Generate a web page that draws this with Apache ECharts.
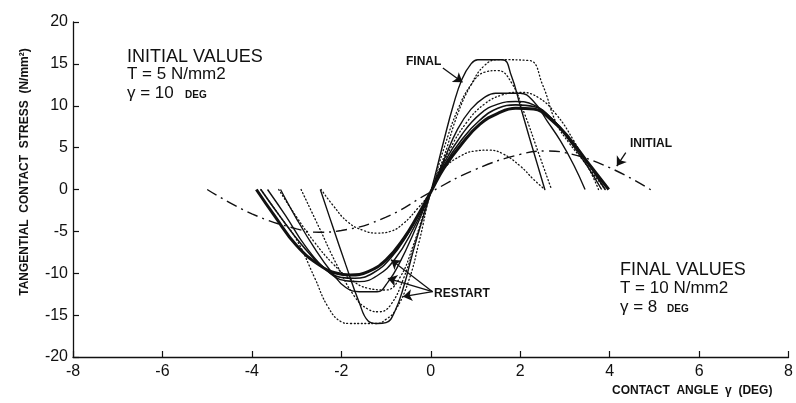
<!DOCTYPE html>
<html>
<head>
<meta charset="utf-8" />
<title>Tangential contact stress</title>
<style>
  html, body { margin: 0; padding: 0; background: #fff; }
  #main { width: 796px; height: 403px; }
</style>
</head>
<body>
<div id="main"></div>
<script src="https://cdn.jsdelivr.net/npm/echarts/dist/echarts.min.js"></script>
<script>
// axis ticks
var xTicks = [-8, -6, -4, -2, 0, 2, 4, 6, 8];
var yTicks = [-20, -15, -10, -5, 0, 5, 10, 15, 20];

// curves: [angle (deg), stress (N/mm2)]
var initialCurve = [[-5,0],[-4,-2.9],[-3,-4.7],[-2.5,-5.1],[-2,-4.9],[-1,-3.3],[0,-0.3],[1,2.4],[2,4.2],[2.6,4.6],[3,4.4],[4,2.6],[5,-0.3]];

var finalCurve = [[-2.47,0],[-2.2,-4.3],[-1.9,-9],[-1.6,-13.5],[-1.4,-15.7],[-1.2,-16],[-1.0,-15.9],[-0.8,-14.5],[-0.6,-11.5],[-0.4,-7.5],[-0.2,-3.8],[0,-0.3],
  [0.3,6],[0.5,10],[0.7,13.2],[0.9,15],[1.05,15.5],[1.6,15.5],[1.8,13.6],[2.0,10],[2.2,6.3],[2.4,2.7],[2.55,0]];

var solidThick = [[-3.9,0],[-3.5,-3.1],[-3.0,-6.7],[-2.5,-9.0],[-2.1,-10.0],[-1.8,-10.2],[-1.4,-9.8],[-1.0,-8.4],[-0.6,-5.8],[-0.3,-3.2],[0,-0.3],
  [0.3,2.6],[0.7,5.5],[1.1,7.8],[1.5,9.1],[1.9,9.7],[2.3,9.6],[2.7,8.3],[3.1,6.1],[3.5,3.3],[3.98,0]];

var solidB = [[-3.8,0],[-3.4,-3],[-2.9,-6.5],[-2.4,-9.3],[-2.0,-10.5],[-1.7,-10.6],[-1.3,-10],[-0.9,-8.2],[-0.5,-5.2],[-0.2,-2.3],[0,-0.3],
  [0.3,2.9],[0.7,6],[1.1,8.3],[1.5,9.7],[1.9,10.1],[2.3,9.9],[2.7,8.5],[3.1,6],[3.5,3.2],[3.9,0]];

var solidC = [[-3.65,0],[-3.25,-3.1],[-2.8,-6.8],[-2.3,-9.8],[-1.9,-10.9],[-1.6,-11],[-1.2,-10.3],[-0.8,-8.3],[-0.4,-4.8],[0,-0.3],
  [0.3,3.2],[0.7,6.6],[1.1,9],[1.5,10.2],[1.9,10.5],[2.3,10.1],[2.7,8.5],[3.1,5.8],[3.5,2.8],[3.82,0]];

var solidD = [[-3.36,0],[-3.0,-3.5],[-2.6,-7],[-2.2,-10],[-1.9,-11.7],[-1.6,-12.2],[-1.2,-12.2],[-0.95,-11],[-0.7,-8.8],[-0.4,-5.4],[0,-0.3],
  [0.3,3.6],[0.6,7.2],[0.9,9.6],[1.2,11.0],[1.45,11.5],[2.0,11.5],[2.3,10.5],[2.6,8.2],[2.9,5.8],[3.2,2.9],[3.45,0]];

var dottedSmall = [[-2.45,0],[-2.2,-1.8],[-1.85,-3.9],[-1.5,-4.9],[-1.2,-5.2],[-0.9,-5],[-0.6,-4],[-0.3,-2.3],[0,-0.3],
  [0.3,2.5],[0.7,4.1],[1.0,4.6],[1.3,4.7],[1.6,4.3],[2.0,2.8],[2.3,1.2],[2.55,0]];

var dottedDeep = [[-3.8,0],[-3.4,-3],[-3.0,-6],[-2.6,-10.5],[-2.3,-14],[-2.0,-15.8],[-1.8,-16],[-1.2,-16],[-1.0,-15.5],[-0.8,-14.5],[-0.5,-11],[-0.25,-6],[0,-0.3],
  [0.3,4],[0.6,9],[0.9,12.5],[1.2,14.8],[1.5,15.5],[2.2,15.4],[2.5,12.5],[2.8,8],[3.1,5.5],[3.4,3.5],[3.9,0]];

var dottedMid = [[-2.9,0],[-2.5,-4.5],[-2.1,-9],[-1.7,-12.8],[-1.4,-14.3],[-1.15,-14.6],[-0.9,-13.8],[-0.6,-10.5],[-0.3,-5.5],[0,-0.3],
  [0.3,5],[0.6,9.5],[0.9,12.5],[1.2,14],[1.5,14.2],[1.8,12.8],[2.1,9],[2.4,4.5],[2.7,0]];

var dottedLow = [[-3.4,0],[-3.0,-3.3],[-2.6,-6.3],[-2.2,-8.8],[-1.8,-10.7],[-1.4,-11.8],[-1.0,-12],[-0.7,-10.6],[-0.4,-6.8],[0,-0.3],
  [0.4,4.5],[0.8,8],[1.2,10.2],[1.6,11.3],[2.0,11.6],[2.4,11],[2.8,9],[3.2,5.8],[3.6,1.8],[3.75,0]];

// annotation arrows, data coordinates [from, to]
var arrowFinal = [[0.27,14.5],[0.71,12.8]];
var arrowInitial = [[4.36,4.4],[4.16,2.8]];
var arrowsRestart = [
  [[0.04,-12.2],[-0.89,-8.4]],
  [[0.04,-12.2],[-0.96,-10.6]],
  [[0.04,-12.2],[-0.62,-12.8]]
];

var ink = '#111';
var font = '"Liberation Sans", Arial, Helvetica, sans-serif';

function solid(data, w) {
  return { type: 'line', data: data, showSymbol: false, smooth: 0.45,
    lineStyle: { color: ink, width: w }, silent: true, z: 3 };
}
function dotted(data) {
  return { type: 'line', data: data, showSymbol: false, smooth: 0.45,
    lineStyle: { color: ink, width: 1.3, type: [1, 2.6], cap: 'round' }, silent: true, z: 2 };
}

var arrowData = [arrowFinal, arrowInitial].concat(arrowsRestart).map(function (c) { return { coords: c }; });

var chart = echarts.init(document.getElementById('main'), null, { renderer: 'canvas' });
chart.setOption({
  animation: false,
  backgroundColor: '#fff',
  grid: { left: 73, right: 3, top: 22, bottom: 46 },
  xAxis: {
    type: 'value', min: xTicks[0], max: xTicks[xTicks.length - 1], interval: 2,
    axisLine: { onZero: false, lineStyle: { color: ink, width: 1.3 } },
    axisTick: { inside: true, length: 6, lineStyle: { color: ink, width: 1.2 } },
    splitLine: { show: false },
    axisLabel: { color: ink, fontSize: 16, fontFamily: font, margin: 7, showMaxLabel: true }
  },
  yAxis: {
    type: 'value', min: yTicks[0], max: yTicks[yTicks.length - 1], interval: 5,
    axisLine: { show: true, onZero: false, lineStyle: { color: ink, width: 1.3 } },
    axisTick: { show: true, inside: true, length: 6, lineStyle: { color: ink, width: 1.2 } },
    splitLine: { show: false },
    axisLabel: { color: ink, fontSize: 16, fontFamily: font, margin: 5 }
  },
  series: [
    { type: 'line', data: initialCurve, showSymbol: false, smooth: 0.45,
      lineStyle: { color: ink, width: 1.4, type: [11, 5, 2, 5] }, silent: true, z: 2 },
    dotted(dottedSmall), dotted(dottedDeep), dotted(dottedMid), dotted(dottedLow),
    solid(finalCurve, 1.4), solid(solidD, 1.4), solid(solidC, 1.4), solid(solidB, 1.6), solid(solidThick, 3),
    { type: 'lines', coordinateSystem: 'cartesian2d', data: arrowData, silent: true,
      symbol: ['none', 'arrow'], symbolSize: [6, 9],
      lineStyle: { color: ink, width: 1.3, opacity: 1 }, z: 4 }
  ],
  graphic: [
    { type: 'text', left: 127, top: 48, style: { text: 'INITIAL VALUES', font: '18px ' + font, fill: ink } },
    { type: 'text', left: 127, top: 66, style: { text: 'T = 5 N/mm2', font: '17px ' + font, fill: ink } },
    { type: 'text', left: 127, top: 85, style: { text: '\u03b3 = 10', font: '17px ' + font, fill: ink } },
    { type: 'text', left: 185, top: 90, style: { text: 'DEG', font: 'bold 10px ' + font, fill: ink } },

    { type: 'text', left: 620, top: 261, style: { text: 'FINAL VALUES', font: '18px ' + font, fill: ink } },
    { type: 'text', left: 620, top: 280, style: { text: 'T = 10 N/mm2', font: '17px ' + font, fill: ink } },
    { type: 'text', left: 620, top: 299, style: { text: '\u03b3 = 8', font: '17px ' + font, fill: ink } },
    { type: 'text', left: 667, top: 304, style: { text: 'DEG', font: 'bold 10px ' + font, fill: ink } },

    { type: 'text', left: 406, top: 56, style: { text: 'FINAL', font: 'bold 12px ' + font, fill: ink } },
    { type: 'text', left: 630, top: 138, style: { text: 'INITIAL', font: 'bold 12px ' + font, fill: ink } },
    { type: 'text', left: 434, top: 288, style: { text: 'RESTART', font: 'bold 12px ' + font, fill: ink } },

    { type: 'text', x: 25, y: 172, rotation: Math.PI / 2,
      style: { text: 'TANGENTIAL  CONTACT  STRESS  (N/mm\u00b2)', font: 'bold 12px ' + font, fill: ink,
        textAlign: 'center', textVerticalAlign: 'middle' } },
    { type: 'text', left: 612, top: 385,
      style: { text: 'CONTACT  ANGLE  \u03b3  (DEG)', font: 'bold 12px ' + font, fill: ink } }
  ]
});
</script>
</body>
</html>
